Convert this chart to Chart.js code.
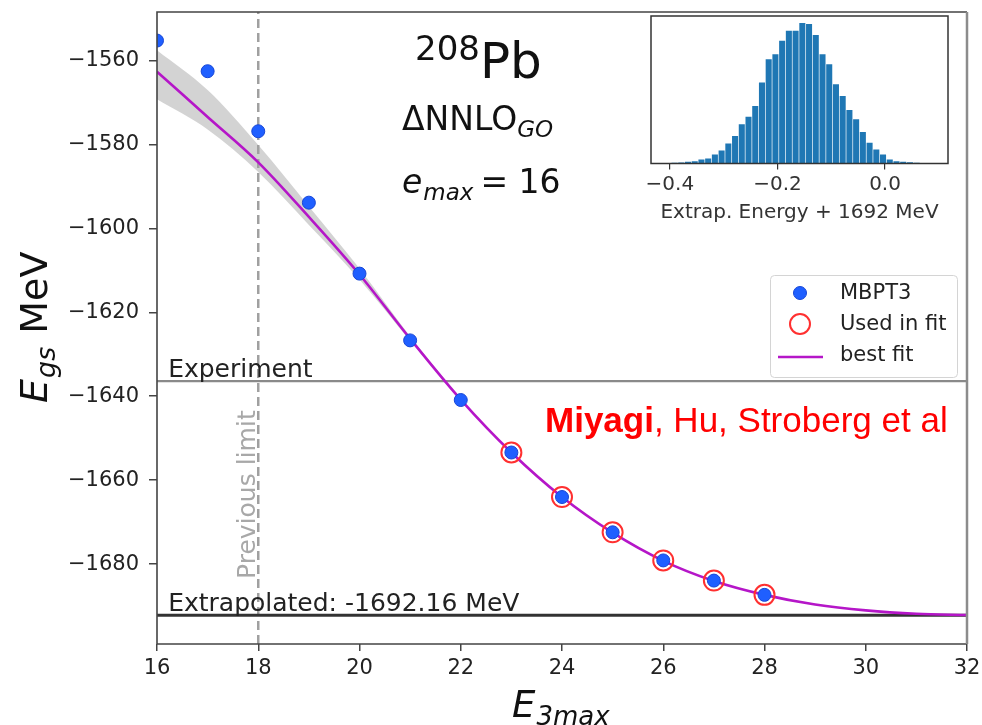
<!DOCTYPE html>
<html>
<head>
<meta charset="utf-8">
<script src="https://cdn.jsdelivr.net/npm/chart.js@4.4.0/dist/chart.umd.min.js"></script>
<style>
  html, body { margin: 0; padding: 0; background: #fff; }
  #wrap { position: relative; width: 982px; height: 725px; overflow: hidden; }
  #mainChart { position: absolute; left: 0; top: 0; }
  #histChart { position: absolute; left: 640px; top: 10px; }
</style>
</head>
<body>
<div id="wrap">
  <canvas id="mainChart" width="982" height="725"></canvas>
  <canvas id="histChart" width="320" height="215"></canvas>
</div>
<script>
// MBPT3 ground-state energies vs E3max
const e3max = [16, 17, 18, 19, 20, 21, 22, 23, 24, 25, 26, 27, 28];
const mbpt3 = [-1555.3, -1562.6, -1576.9, -1593.9, -1610.8, -1626.7, -1640.9,
               -1653.4, -1664.0, -1672.4, -1679.1, -1683.9, -1687.3];

// points used in the fit
const usedX = [23, 24, 25, 26, 27, 28];
const usedY = [-1653.4, -1664.0, -1672.4, -1679.1, -1683.9, -1687.3];

// best fit curve
const fitX = [16, 17, 18, 19, 20, 21, 22, 23, 24, 25, 26, 27, 28, 29, 30, 31, 32];
const fitY = [-1562.7, -1573.5, -1584.3, -1597.3, -1611.0, -1626.3, -1640.8, -1653.4,
              -1664.0, -1672.5, -1679.2, -1684.0, -1687.3, -1689.6, -1691.0, -1691.8, -1692.1];

// uncertainty band
const bandX  = [16, 17, 18, 19, 20, 21, 22];
const bandHi = [-1557.6, -1567.1, -1580.2, -1594.8, -1609.6, -1625.8, -1640.6];
const bandLo = [-1569.3, -1576.5, -1586.6, -1599.2, -1612.2, -1626.8, -1641.0];

const expEnergy = -1636.4;
const extrapEnergy = -1692.16;
const prevLimit = 18;

const xTicks = [16, 18, 20, 22, 24, 26, 28, 30, 32];
const yTicks = [-1680, -1660, -1640, -1620, -1600, -1580, -1560];
const yMin = -1699;
const yMax = -1548.5;

// inset histogram: bin centres and counts
const histCenters = [-0.41625, -0.40375, -0.39125, -0.37875, -0.36625, -0.35375, -0.34125,
  -0.32875, -0.31625, -0.30375, -0.29125, -0.27875, -0.26625, -0.25375, -0.24125, -0.22875,
  -0.21625, -0.20375, -0.19125, -0.17875, -0.16625, -0.15375, -0.14125, -0.12875, -0.11625,
  -0.10375, -0.09125, -0.07875, -0.06625, -0.05375, -0.04125, -0.02875, -0.01625, -0.00375,
  0.00875, 0.02125, 0.03375, 0.04625, 0.05875];
const histCounts = [1, 1, 2, 3, 5, 7, 12, 15, 27, 39, 60, 82, 117, 140, 172, 242, 312, 327,
  367, 397, 397, 420, 417, 384, 327, 297, 237, 202, 160, 132, 94, 62, 42, 27, 12, 7, 5, 4, 2];
const histTicks = [-0.4, -0.2, 0.0];

Chart.defaults.font.family = '"DejaVu Sans", sans-serif';

const pts = (xs, ys) => xs.map((v, i) => ({ x: v, y: ys[i] }));
const minus = s => String(s).replace('-', '\u2212');

const overlay = {
  id: 'overlay',
  afterDatasetsDraw(chart) {
    const { ctx, chartArea: a, scales: { x, y } } = chart;
    ctx.save();

    // axes frame
    ctx.strokeStyle = '#444';
    ctx.lineWidth = 1.6;
    ctx.beginPath();
    ctx.moveTo(a.right, a.top);
    ctx.lineTo(a.left, a.top);
    ctx.lineTo(a.left, a.bottom);
    ctx.lineTo(a.right, a.bottom);
    ctx.stroke();
    ctx.strokeStyle = '#8c8c8c';
    ctx.lineWidth = 2.5;
    ctx.beginPath();
    ctx.moveTo(a.right, a.top);
    ctx.lineTo(a.right, a.bottom);
    ctx.stroke();

    // line labels
    ctx.textAlign = 'left';
    ctx.textBaseline = 'alphabetic';
    ctx.fillStyle = '#222';
    ctx.font = '25px "DejaVu Sans"';
    const lx = x.getPixelForValue(16.22);
    ctx.fillText('Experiment', lx, y.getPixelForValue(expEnergy) - 4);
    ctx.fillText('Extrapolated: ' + extrapEnergy.toFixed(2) + ' MeV', lx, y.getPixelForValue(extrapEnergy) - 4);

    ctx.save();
    ctx.translate(x.getPixelForValue(prevLimit) - 3, y.getPixelForValue(-1683.5));
    ctx.rotate(-Math.PI / 2);
    ctx.fillStyle = '#a8a8a8';
    ctx.fillText('Previous limit', 0, 0);
    ctx.restore();

    // nucleus / interaction text
    ctx.fillStyle = '#111';
    ctx.font = '34px "DejaVu Sans"';
    ctx.fillText('208', 415, 60);
    let w = ctx.measureText('208').width;
    ctx.font = '50px "DejaVu Sans"';
    ctx.fillText('Pb', 415 + w, 78);

    ctx.font = '33px "DejaVu Sans"';
    ctx.fillText('\u0394NNLO', 402, 130);
    w = ctx.measureText('\u0394NNLO').width;
    ctx.font = 'italic 23px "DejaVu Sans"';
    ctx.fillText('GO', 402 + w, 137);

    ctx.font = 'italic 33px "DejaVu Sans"';
    ctx.fillText('e', 402, 193);
    w = ctx.measureText('e').width;
    ctx.font = 'italic 23px "DejaVu Sans"';
    ctx.fillText('max', 403 + w, 200);
    w += ctx.measureText('max').width;
    ctx.font = '33px "DejaVu Sans"';
    ctx.fillText('= 16', 410 + w, 193);

    // authors
    ctx.fillStyle = '#ff0000';
    ctx.font = 'bold 35px "Liberation Sans"';
    ctx.fillText('Miyagi', 545, 432);
    w = ctx.measureText('Miyagi').width;
    ctx.font = '35px "Liberation Sans"';
    ctx.fillText(', Hu, Stroberg et al', 545 + w, 432);

    // legend
    ctx.fillStyle = 'rgba(255,255,255,0.85)';
    ctx.strokeStyle = '#d4d4d4';
    ctx.lineWidth = 1;
    ctx.beginPath();
    ctx.roundRect(770.5, 275.5, 187, 102, 4);
    ctx.fill();
    ctx.stroke();
    ctx.font = '21px "DejaVu Sans"';
    ctx.fillStyle = '#222';
    ctx.textBaseline = 'middle';
    ctx.fillText('MBPT3', 840, 294);
    ctx.fillText('Used in fit', 840, 325);
    ctx.fillText('best fit', 840, 356);
    ctx.beginPath();
    ctx.arc(800, 293, 6.5, 0, Math.PI * 2);
    ctx.fillStyle = '#1f5fff';
    ctx.fill();
    ctx.strokeStyle = '#1746d6';
    ctx.lineWidth = 1;
    ctx.stroke();
    ctx.beginPath();
    ctx.arc(800, 324, 10, 0, Math.PI * 2);
    ctx.strokeStyle = '#ff3030';
    ctx.lineWidth = 2;
    ctx.stroke();
    ctx.beginPath();
    ctx.moveTo(778, 357);
    ctx.lineTo(823, 357);
    ctx.strokeStyle = '#b516c8';
    ctx.lineWidth = 2.6;
    ctx.stroke();
    ctx.restore();
  },
  afterDraw(chart) {
    const { ctx } = chart;
    ctx.save();
    ctx.fillStyle = '#111';
    ctx.textAlign = 'left';
    ctx.textBaseline = 'alphabetic';

    // y title: E_gs MeV
    ctx.save();
    ctx.translate(47, 403);
    ctx.rotate(-Math.PI / 2);
    ctx.font = 'italic 38px "DejaVu Sans"';
    ctx.fillText('E', 0, 0);
    let w = ctx.measureText('E').width;
    ctx.font = 'italic 27px "DejaVu Sans"';
    ctx.fillText('gs', w + 1, 8);
    w += ctx.measureText('gs').width;
    ctx.font = '38px "DejaVu Sans"';
    ctx.fillText(' MeV', w + 2, 0);
    ctx.restore();

    // x title: E_3max
    ctx.font = 'italic 37px "DejaVu Sans"';
    ctx.fillText('E', 512, 717);
    w = ctx.measureText('E').width;
    ctx.font = 'italic 26px "DejaVu Sans"';
    ctx.fillText('3max', 513 + w, 725);
    ctx.restore();
  }
};

new Chart(document.getElementById('mainChart'), {
  type: 'scatter',
  data: {
    datasets: [
      {
        data: pts(bandX, bandHi), showLine: true, borderWidth: 0, pointRadius: 0,
        fill: '+1', backgroundColor: 'rgba(175,175,175,0.55)', cubicInterpolationMode: 'monotone', order: 10
      },
      {
        data: pts(bandX, bandLo), showLine: true, borderWidth: 0, pointRadius: 0,
        borderColor: 'rgba(0,0,0,0)', cubicInterpolationMode: 'monotone', order: 10
      },
      {
        data: pts(fitX, fitY), showLine: true, borderColor: '#b516c8', borderWidth: 2.6,
        pointRadius: 0, cubicInterpolationMode: 'monotone', order: 4
      },
      {
        data: [{ x: xTicks[0], y: expEnergy }, { x: xTicks[xTicks.length - 1], y: expEnergy }],
        showLine: true, borderColor: '#8a8a8a', borderWidth: 2.2, pointRadius: 0, order: 6
      },
      {
        data: [{ x: xTicks[0], y: extrapEnergy }, { x: xTicks[xTicks.length - 1], y: extrapEnergy }],
        showLine: true, borderColor: '#333', borderWidth: 3, pointRadius: 0, order: 6
      },
      {
        data: [{ x: prevLimit, y: yMin }, { x: prevLimit, y: yMax }],
        showLine: true, borderColor: '#a0a0a0', borderWidth: 2.5, borderDash: [9, 5],
        pointRadius: 0, order: 7
      },
      {
        data: pts(e3max, mbpt3), pointRadius: 6.5, pointBackgroundColor: '#1f5fff',
        pointBorderColor: '#1746d6', pointBorderWidth: 1, clip: 0, order: 2
      },
      {
        data: pts(usedX, usedY), pointRadius: 10, pointBackgroundColor: 'rgba(0,0,0,0)',
        pointBorderColor: '#ff3030', pointBorderWidth: 2, order: 1
      }
    ]
  },
  options: {
    responsive: false,
    animation: false,
    devicePixelRatio: 1,
    layout: { padding: { left: 0, right: 15, top: 8, bottom: 0 } },
    plugins: { legend: { display: false }, tooltip: { enabled: false } },
    scales: {
      x: {
        type: 'linear', min: xTicks[0], max: xTicks[xTicks.length - 1],
        afterBuildTicks: ax => { ax.ticks = xTicks.map(v => ({ value: v })); },
        afterFit: ax => { ax.height = 81; ax.paddingLeft = 0; ax.paddingRight = 0; },
        grid: { drawOnChartArea: false, drawTicks: true, tickLength: 7, color: '#444', lineWidth: 1.5 },
        border: { display: false },
        ticks: { font: { size: 21 }, color: '#222', padding: 5, maxRotation: 0, autoSkip: false }
      },
      y: {
        type: 'linear', min: yMin, max: yMax,
        afterBuildTicks: ax => { ax.ticks = yTicks.map(v => ({ value: v })); },
        afterFit: ax => { ax.width = 157; ax.paddingTop = 0; ax.paddingBottom = 0; },
        grid: { drawOnChartArea: false, drawTicks: true, tickLength: 8, color: '#444', lineWidth: 1.5 },
        border: { display: false },
        ticks: { font: { size: 21, lineHeight: 0.3 }, color: '#222', padding: 10, autoSkip: false,
                 callback: v => minus(v) }
      }
    }
  },
  plugins: [overlay]
});

// inset histogram
const insetFrame = {
  id: 'insetFrame',
  beforeDatasetsDraw(chart) {
    const { ctx, chartArea: a } = chart;
    ctx.save();
    ctx.fillStyle = '#fff';
    ctx.fillRect(a.left, a.top, a.right - a.left, a.bottom - a.top);
    ctx.restore();
  },
  afterDraw(chart) {
    const { ctx, chartArea: a } = chart;
    ctx.save();
    ctx.strokeStyle = '#333';
    ctx.lineWidth = 1.5;
    ctx.strokeRect(a.left, a.top, a.right - a.left, a.bottom - a.top);
    ctx.restore();
  }
};

new Chart(document.getElementById('histChart'), {
  type: 'bar',
  data: {
    datasets: [{
      data: pts(histCenters, histCounts),
      backgroundColor: '#1f77b4',
      borderWidth: 0,
      barPercentage: 0.9,
      categoryPercentage: 1
    }]
  },
  options: {
    responsive: false,
    animation: false,
    devicePixelRatio: 1,
    layout: { padding: { left: 11, right: 12, top: 6, bottom: 0 } },
    plugins: { legend: { display: false }, tooltip: { enabled: false } },
    scales: {
      x: {
        type: 'linear', min: -0.435, max: 0.117, offset: false,
        afterBuildTicks: ax => { ax.ticks = histTicks.map(v => ({ value: v })); },
        afterFit: ax => { ax.height = 61.5; ax.paddingLeft = 0; ax.paddingRight = 0; },
        grid: { drawOnChartArea: false, drawTicks: true, tickLength: 6, color: '#333', lineWidth: 1.2, offset: false },
        border: { display: false },
        ticks: { font: { size: 20 }, color: '#333', padding: 3, maxRotation: 0, autoSkip: false,
                 callback: v => minus(v.toFixed(1)) },
        title: { display: true, text: 'Extrap. Energy + 1692 MeV', font: { size: 20 }, color: '#333', padding: 0 }
      },
      y: { display: false, min: 0, max: 441 }
    }
  },
  plugins: [insetFrame]
});
</script>
</body>
</html>
